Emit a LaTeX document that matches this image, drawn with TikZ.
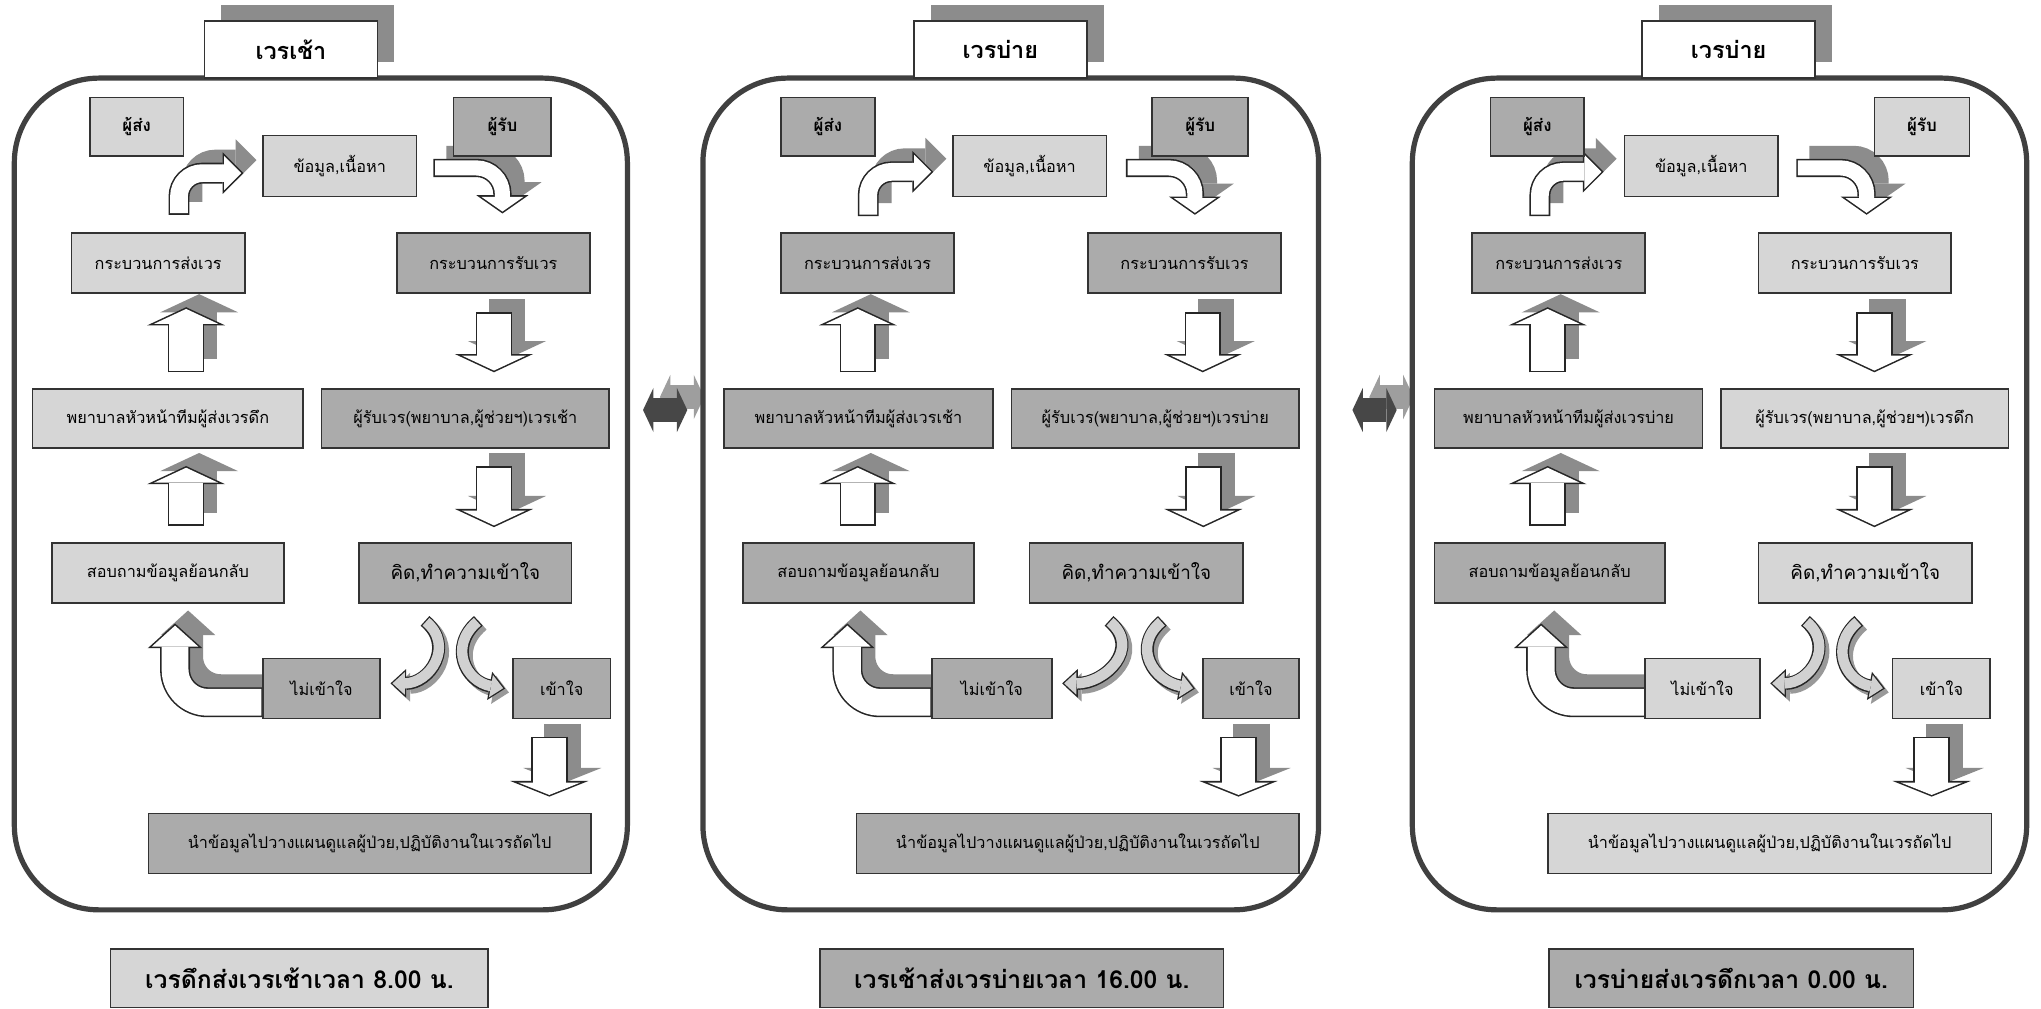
\documentclass[tikz,border=0pt]{standalone}
\usepackage{fontspec}
\newfontfamily\thaifont[Script=Thai]{Loma}
\usetikzlibrary{arrows.meta,backgrounds}

\tikzset{
  box/.style={draw=black!80, line width=1.3pt, inner sep=0pt, outer sep=0pt,
    font=\thaifont\fontsize{12.5}{14}\selectfont},
  lt/.style={box, fill=black!16},
  dk/.style={box, fill=black!33},
  sz/.style 2 args={minimum width=#1pt, minimum height=#2pt},
  heavy/.style={font=\thaifont\bfseries\fontsize{13}{15}\selectfont},
  big/.style={font=\thaifont\fontsize{14.5}{16}\selectfont},
  panel/.style={draw=black!75, line width=4pt, rounded corners=65pt,
    outer sep=0pt, minimum height=639pt},
  shiftname/.style={draw=black!80, line width=1.3pt, fill=white,
    minimum width=133pt, minimum height=44pt,
    font=\thaifont\bfseries\fontsize{18}{20}\selectfont,
    preaction={fill=black!45, transform canvas={shift={(13pt,12pt)}}}},
  timebox/.style={box, minimum height=45pt,
    font=\thaifont\bfseries\fontsize{19}{21}\selectfont},
  barrow/.style n args={3}{
    /utils/exec={%
      \pgfmathsetmacro\baD{1.2/sin(atan(#2/2/#3))}%
      \pgfmathsetmacro\baL{#3-1.2-\baD}%
      \pgfmathsetmacro\baH{#2*\baL/#3}%
      \pgfmathsetmacro\baW{#1-2.4}},
    line width=#1pt, draw=black!85,
    -{Triangle[width=#2pt,length=#3pt,line width=0pt]},
    preaction={draw=black!45, transform canvas={shift={(10pt,10pt)}}, line width=#1pt},
    postaction={draw=white, line width=\baW pt, shorten <=1.2pt, shorten >=\baD pt,
      -{Triangle[width=\baH pt,length=\baL pt,line width=0pt]}}},
  sarrow/.style={line width=10pt, draw=black!85,
    -{Triangle[width=22pt,length=12pt,line width=0pt]},
    preaction={draw=black!40, transform canvas={shift={(3pt,-3pt)}}, line width=10pt},
    postaction={draw=black!18, line width=8pt, shorten <=1pt, shorten >=1.5pt,
      -{Triangle[width=17.4pt,length=9.5pt,line width=0pt]}}},
  dbl/.style={line width=18pt, draw=black!72,
    {Triangle[width=34pt,length=8pt,line width=0pt]}-{Triangle[width=34pt,length=8pt,line width=0pt]},
    preaction={draw=black!38, transform canvas={shift={(13pt,10pt)}}, line width=18pt}}
}

\begin{document}
\begin{tikzpicture}[x=1pt, y=1pt]
	\useasboundingbox (0,0) rectangle (1568,-775);

	\node[panel, minimum width=471pt] (p1) at (246.5,-379.5) {};
	\node[shiftname] (t1) at (223.5,-38) {เวรเช้า};
	\node[lt, sz={72}{45}, heavy] (snd1) at (105,-97.5) {ผู้ส่ง};
	\node[dk, sz={75}{45}, heavy] (rcv1) at (386,-97.5) {ผู้รับ};
	\node[lt, sz={118}{47}] (info1) at (261,-127.5) {ข้อมูล,เนื้อหา};
	\node[lt, sz={133}{46}] (ps1) at (121.5,-202) {กระบวนการส่งเวร};
	\node[dk, sz={148}{46}] (pr1) at (379,-202) {กระบวนการรับเวร};
	\node[lt, sz={208}{45}] (nurse1) at (129,-321.5) {พยาบาลหัวหน้าทีมผู้ส่งเวรดึก};
	\node[dk, sz={221}{45}] (rec1) at (357.5,-321.5) {ผู้รับเวร(พยาบาล,ผู้ช่วยฯ)เวรเช้า};
	\node[lt, sz={178}{46}] (ask1) at (129,-440) {สอบถามข้อมูลย้อนกลับ};
	\node[dk, sz={163}{46}, big] (think1) at (357.5,-440) {คิด,ทำความเข้าใจ};
	\node[dk, sz={90}{46}] (nu1) at (247,-529) {ไม่เข้าใจ};
	\node[dk, sz={75}{46}] (know1) at (431.5,-529) {เข้าใจ};
	\node[dk, sz={340}{46}] (plan1) at (284,-648) {นำข้อมูลไปวางแผนดูแลผู้ป่วย,ปฏิบัติงานในเวรถัดไป};
	\node[lt, timebox, minimum width=290pt] (time1) at (230,-751.5) {เวรดึกส่งเวรเช้าเวลา 8.00 น.};

	\node[panel, minimum width=473pt] (p2) at (776.5,-379.5) {};
	\node[shiftname] (t2) at (768.5,-38) {เวรบ่าย};
	\node[dk, sz={72}{45}, heavy] (snd2) at (636,-97.5) {ผู้ส่ง};
	\node[dk, sz={74}{45}, heavy] (rcv2) at (922,-97.5) {ผู้รับ};
	\node[lt, sz={118}{47}] (info2) at (791,-127.5) {ข้อมูล,เนื้อหา};
	\node[dk, sz={133}{46}] (ps2) at (666.5,-202) {กระบวนการส่งเวร};
	\node[dk, sz={148}{46}] (pr2) at (910,-202) {กระบวนการรับเวร};
	\node[dk, sz={207}{45}] (nurse2) at (659.5,-321.5) {พยาบาลหัวหน้าทีมผู้ส่งเวรเช้า};
	\node[dk, sz={221}{45}] (rec2) at (887.5,-321.5) {ผู้รับเวร(พยาบาล,ผู้ช่วยฯ)เวรบ่าย};
	\node[dk, sz={177}{46}] (ask2) at (659.5,-440) {สอบถามข้อมูลย้อนกลับ};
	\node[dk, sz={164}{46}, big] (think2) at (873,-440) {คิด,ทำความเข้าใจ};
	\node[dk, sz={92}{46}] (nu2) at (762,-529) {ไม่เข้าใจ};
	\node[dk, sz={74}{46}] (know2) at (961,-529) {เข้าใจ};
	\node[dk, sz={340}{46}] (plan2) at (828,-648) {นำข้อมูลไปวางแผนดูแลผู้ป่วย,ปฏิบัติงานในเวรถัดไป};
	\node[dk, timebox, minimum width=310pt] (time2) at (785,-751.5) {เวรเช้าส่งเวรบ่ายเวลา 16.00 น.};

	\node[panel, minimum width=472pt] (p3) at (1321,-379.5) {};
	\node[shiftname] (t3) at (1328,-38) {เวรบ่าย};
	\node[dk, sz={72}{45}, heavy] (snd3) at (1181,-97.5) {ผู้ส่ง};
	\node[lt, sz={73}{45}, heavy] (rcv3) at (1476.5,-97.5) {ผู้รับ};
	\node[lt, sz={118}{47}] (info3) at (1307,-127.5) {ข้อมูล,เนื้อหา};
	\node[dk, sz={133}{46}] (ps3) at (1197.5,-202) {กระบวนการส่งเวร};
	\node[lt, sz={148}{46}] (pr3) at (1425,-202) {กระบวนการรับเวร};
	\node[dk, sz={206}{45}] (nurse3) at (1205,-321.5) {พยาบาลหัวหน้าทีมผู้ส่งเวรบ่าย};
	\node[lt, sz={221}{45}] (rec3) at (1432.5,-321.5) {ผู้รับเวร(พยาบาล,ผู้ช่วยฯ)เวรดึก};
	\node[dk, sz={177}{46}] (ask3) at (1190.5,-440) {สอบถามข้อมูลย้อนกลับ};
	\node[lt, sz={164}{46}, big] (think3) at (1433,-440) {คิด,ทำความเข้าใจ};
	\node[lt, sz={88}{46}] (nu3) at (1308,-529) {ไม่เข้าใจ};
	\node[lt, sz={75}{46}] (know3) at (1491.5,-529) {เข้าใจ};
	\node[lt, sz={341}{46}] (plan3) at (1359.5,-648) {นำข้อมูลไปวางแผนดูแลผู้ป่วย,ปฏิบัติงานในเวรถัดไป};
	\node[dk, timebox, minimum width=280pt] (time3) at (1330,-751.5) {เวรบ่ายส่งเวรดึกเวลา 0.00 น.};

	\begin{scope}[on background layer]
		\fill[white] (0,0) rectangle (1568,-775);

		\draw[barrow={16}{32}{16}, rounded corners=18pt] ([xshift=16pt,yshift=14pt]ps1.north) |- ([xshift=-15pt,yshift=-5.5pt]info1.west);
		\draw[barrow={14}{40}{14}, rounded corners=20pt] ([xshift=13pt,yshift=-1.5pt]info1.east) -| ([xshift=7pt,yshift=15pt]pr1.north);
		\draw[barrow={28}{60}{14}] ([xshift=14pt,yshift=13pt]nurse1.north) -- ([xshift=21.5pt,yshift=-11pt]ps1.south);
		\draw[barrow={28}{60}{14}] ([xshift=0.5pt,yshift=-15pt]pr1.south) -- ([xshift=22pt,yshift=13pt]rec1.north);
		\draw[barrow={28}{60}{14}] ([xshift=14pt,yshift=13pt]ask1.north) -- ([xshift=14pt,yshift=-14pt]nurse1.south);
		\draw[barrow={28}{60}{14}] ([xshift=22pt,yshift=-14pt]rec1.south) -- ([xshift=22pt,yshift=12pt]think1.north);
		\draw[barrow={23}{42}{19}, rounded corners=25pt] ([yshift=-10.5pt]nu1.west) -| ([xshift=5.5pt,yshift=-16pt]ask1.south);
		\draw[sarrow] ([xshift=-31pt,yshift=-14pt]think1.south) to[out=-40,in=0,looseness=1.4] ([xshift=8pt,yshift=4pt]nu1.east);
		\draw[sarrow] ([xshift=10pt,yshift=-14pt]think1.south) to[out=-140,in=170,looseness=1.4] ([xshift=-6pt]know1.west);
		\draw[barrow={28}{60}{12}] ([xshift=-9.5pt,yshift=-14pt]know1.south) -- ([xshift=-9.5pt,yshift=13pt]know1.south |- plan1.north);

		\draw[barrow={16}{32}{16}, rounded corners=18pt] ([xshift=0.5pt,yshift=13pt]ps2.north) |- ([xshift=-15pt,yshift=-4.5pt]info2.west);
		\draw[barrow={14}{40}{14}, rounded corners=20pt] ([xshift=15pt,yshift=-1.5pt]info2.east) -| ([xshift=8pt,yshift=14pt]pr2.north);
		\draw[barrow={28}{60}{14}] ([xshift=-0.5pt,yshift=13pt]nurse2.north) -- ([xshift=-7.5pt,yshift=-11pt]ps2.south);
		\draw[barrow={28}{60}{14}] ([xshift=14pt,yshift=-15pt]pr2.south) -- ([xshift=36.5pt,yshift=13pt]rec2.north);
		\draw[barrow={28}{60}{14}] ([xshift=-0.5pt,yshift=13pt]ask2.north) -- ([xshift=-0.5pt,yshift=-14pt]nurse2.south);
		\draw[barrow={28}{60}{14}] ([xshift=37pt,yshift=-14pt]rec2.south) -- ([xshift=51.5pt,yshift=12pt]think2.north);
		\draw[barrow={23}{42}{19}, rounded corners=25pt] ([yshift=-10.5pt]nu2.west) -| ([xshift=-8.5pt,yshift=-16pt]ask2.south);
		\draw[sarrow] ([xshift=-21pt,yshift=-14pt]think2.south) to[out=-40,in=0,looseness=1.4] ([xshift=8pt,yshift=4pt]nu2.east);
		\draw[sarrow] ([xshift=20pt,yshift=-14pt]think2.south) to[out=-140,in=170,looseness=1.4] ([xshift=-6pt]know2.west);
		\draw[barrow={28}{60}{12}] ([xshift=-9.5pt,yshift=-14pt]know2.south) -- ([xshift=-9.5pt,yshift=13pt]know2.south |- plan2.north);

		\draw[barrow={16}{32}{16}, rounded corners=18pt] ([xshift=-14.5pt,yshift=13pt]ps3.north) |- ([xshift=-16pt,yshift=-4.5pt]info3.west);
		\draw[barrow={14}{40}{14}, rounded corners=20pt] ([xshift=14pt,yshift=-1.5pt]info3.east) -| ([xshift=9pt,yshift=14pt]pr3.north);
		\draw[barrow={28}{60}{14}] ([xshift=-16pt,yshift=13pt]nurse3.north) -- ([xshift=-8.5pt,yshift=-11pt]ps3.south);
		\draw[barrow={28}{60}{14}] ([xshift=15pt,yshift=-15pt]pr3.south) -- ([xshift=7.5pt,yshift=13pt]rec3.north);
		\draw[barrow={28}{60}{14}] ([xshift=-1.5pt,yshift=13pt]ask3.north) -- ([xshift=-16pt,yshift=-14pt]nurse3.south);
		\draw[barrow={28}{60}{14}] ([xshift=7.5pt,yshift=-14pt]rec3.south) -- ([xshift=7pt,yshift=12pt]think3.north);
		\draw[barrow={23}{42}{19}, rounded corners=25pt] ([yshift=-10.5pt]nu3.west) -| ([xshift=-6.5pt,yshift=-16pt]ask3.south);
		\draw[sarrow] ([xshift=-46pt,yshift=-14pt]think3.south) to[out=-40,in=0,looseness=1.4] ([xshift=8pt,yshift=4pt]nu3.east);
		\draw[sarrow] ([xshift=-5pt,yshift=-14pt]think3.south) to[out=-140,in=170,looseness=1.4] ([xshift=-6pt]know3.west);
		\draw[barrow={28}{60}{12}] ([xshift=-7.5pt,yshift=-14pt]know3.south) -- ([xshift=-7.5pt,yshift=13pt]know3.south |- plan3.north);

		\draw[dbl] ([xshift=12pt,yshift=64.5pt]p1.east) -- ([xshift=-12pt,yshift=64.5pt]p2.west);
		\draw[dbl] ([xshift=26pt,yshift=64.5pt]p2.east) -- ([xshift=-12pt,yshift=64.5pt]p3.west);
	\end{scope}
\end{tikzpicture}
\end{document}
